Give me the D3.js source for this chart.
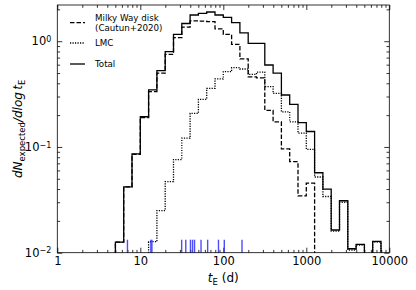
<!DOCTYPE html>
<html>
<head>
<meta charset="utf-8">
<script src="https://cdn.jsdelivr.net/npm/d3@7"></script>
<style>
  body { margin: 0; background: #fff; }
  svg { font-family: "DejaVu Sans", sans-serif; }
</style>
</head>
<body>
<div class="chart"></div>
<script>
// histogram bins: uniform in log10(tE), width 0.1 dex, from 10^0.7 to 10^4.0
const logEdges = d3.range(0.7, 4.0001, 0.1);

// dN_expected / dlog tE per bin (33 bins)
const milkyWay = [0.0126, 0.042, 0.085, 0.19, 0.333, 0.50, 0.75, 1.08, 1.36, 1.56,
  1.55, 1.53, 1.31, 1.16, 0.935, 0.68, 0.46, 0.45, 0.222, 0.173,
  0.0957, 0.0726, 0.0344, 0.0454, 0, 0, 0, 0, 0, 0, 0, 0, 0];
const lmc = [0, 0, 0, 0, 0.0127, 0.025, 0.047, 0.076, 0.121, 0.208,
  0.282, 0.358, 0.44, 0.515, 0.562, 0.546, 0.486, 0.51, 0.372, 0.321,
  0.215, 0.173, 0.135, 0.095, 0.052, 0.034, 0.016, 0.030, 0.0106, 0.0118,
  0, 0.0126, 0];
const total = [0.0126, 0.042, 0.086, 0.193, 0.346, 0.526, 0.796, 1.16, 1.47, 1.77,
  1.83, 1.89, 1.77, 1.68, 1.50, 1.20, 0.955, 0.955, 0.596, 0.50,
  0.31, 0.253, 0.170, 0.140, 0.057, 0.040, 0.0164, 0.031, 0.0109, 0.0120,
  0, 0.0128, 0];

// observed events (blue rug marks), tE in days
const observed = [7.0, 13.4, 13.8, 31.5, 35.3, 40.2, 42.6, 45.0, 53.9, 64.8, 87.5, 102.8, 168];

const xTicks = [1, 10, 100, 1000, 10000];
const yTicks = [0.01, 0.1, 1];
const yExp = ['\u22122', '\u22121', '0'];

const series = [
  {name: 'mw', values: milkyWay, dash: '4.5,2'},
  {name: 'lmc', values: lmc, dash: '1.2,1.3'},
  {name: 'total', values: total, dash: null}
];

const W = 416, H = 290;
const margin = {top: 5, right: 26.7, bottom: 37.3, left: 57.3};
const width = W - margin.left - margin.right;
const height = H - margin.top - margin.bottom;

const xScale = d3.scaleLog().domain([1, 10000]).range([0, width]);
const yScale = d3.scaleLog().domain([0.01, 2.2]).range([height, 0]);

const svg = d3.select('.chart').append('svg')
    .attr('width', W)
    .attr('height', H);

svg.append('defs').append('clipPath').attr('id', 'clip')
  .append('rect').attr('width', width).attr('height', height);

const g = svg.append('g')
    .attr('transform', `translate(${margin.left},${margin.top})`);

// minor tick values
const minorX = [];
xTicks.slice(0, -1).forEach(d => { for (let k = 2; k < 10; k++) minorX.push(d * k); });
const minorY = [];
[0.01, 0.1].forEach(d => { for (let k = 2; k < 10; k++) minorY.push(d * k); });
minorY.push(2);

const styleAxis = function (sel) {
  sel.select('.domain').remove();
  sel.selectAll('line').attr('stroke', '#000').attr('stroke-width', 0.8);
  sel.selectAll('text').attr('fill', '#000').style('font-size', '11.5px')
    .attr('font-family', '"DejaVu Sans", sans-serif');
};

// bottom / top
g.append('g').attr('transform', `translate(0,${height})`)
  .call(d3.axisBottom(xScale).tickValues(xTicks).tickSize(-5).tickPadding(4.5)
    .tickFormat(d3.format('d')))
  .call(styleAxis);
g.append('g').attr('transform', `translate(0,${height})`)
  .call(d3.axisBottom(xScale).tickValues(minorX).tickSize(-2.8).tickFormat(''))
  .call(styleAxis);
g.append('g')
  .call(d3.axisTop(xScale).tickValues(xTicks).tickSize(-5).tickFormat(''))
  .call(styleAxis);
g.append('g')
  .call(d3.axisTop(xScale).tickValues(minorX).tickSize(-2.8).tickFormat(''))
  .call(styleAxis);

// left / right
const yAxis = g.append('g')
  .call(d3.axisLeft(yScale).tickValues(yTicks).tickSize(-5).tickPadding(6).tickFormat(''))
  .call(styleAxis);
yAxis.selectAll('.tick text').each(function (d, i) {
  const t = d3.select(this).text(null).attr('dx', '-0.45em');
  t.append('tspan').text('10');
  t.append('tspan').attr('dy', '-0.45em').style('font-size', '8px').text(yExp[i]);
});
g.append('g')
  .call(d3.axisLeft(yScale).tickValues(minorY).tickSize(-2.8).tickFormat(''))
  .call(styleAxis);
g.append('g').attr('transform', `translate(${width},0)`)
  .call(d3.axisRight(yScale).tickValues(yTicks).tickSize(-5).tickFormat(''))
  .call(styleAxis);
g.append('g').attr('transform', `translate(${width},0)`)
  .call(d3.axisRight(yScale).tickValues(minorY).tickSize(-2.8).tickFormat(''))
  .call(styleAxis);

// fix superscript positions (text-anchor end: superscript is last)
yAxis.selectAll('.tick text').attr('dx', null);

// step histograms
const yPos = v => (v > 0 ? yScale(v) : height + 2);
const stepPoints = function (values) {
  const pts = [[xScale(Math.pow(10, logEdges[0])), height + 2]];
  values.forEach((v, i) => {
    pts.push([xScale(Math.pow(10, logEdges[i])), yPos(v)]);
    pts.push([xScale(Math.pow(10, logEdges[i + 1])), yPos(v)]);
  });
  pts.push([xScale(Math.pow(10, logEdges[values.length])), height + 2]);
  return pts;
};

const lines = g.append('g').attr('clip-path', 'url(#clip)');
lines.selectAll('.hist')
  .data(series)
  .enter().append('path')
    .attr('class', 'hist')
    .attr('d', d => d3.line()(stepPoints(d.values)))
    .attr('fill', 'none')
    .attr('stroke', '#000')
    .attr('stroke-width', 1.3)
    .attr('stroke-dasharray', d => d.dash);

// rug of observed events
g.append('g').selectAll('line')
  .data(observed)
  .enter().append('line')
    .attr('x1', d => xScale(d)).attr('x2', d => xScale(d))
    .attr('y1', height).attr('y2', height - 13)
    .attr('stroke', '#2f2ff5')
    .attr('stroke-width', 1.4)
    .attr('stroke-opacity', 0.85);

// frame
g.append('rect')
  .attr('width', width).attr('height', height)
  .attr('fill', 'none').attr('stroke', '#000').attr('stroke-width', 0.8);

// legend
const legend = [
  {dash: '4.5,2', y: 22.7, text: ['Milky Way disk', '(Cautun+2020)']},
  {dash: '1.2,1.3', y: 43, text: ['LMC']},
  {dash: null, y: 64, text: ['Total']}
];
const lg = svg.append('g');
legend.forEach(d => {
  lg.append('line')
    .attr('x1', 70).attr('x2', 85).attr('y1', d.y).attr('y2', d.y)
    .attr('stroke', '#000').attr('stroke-width', 1.3)
    .attr('stroke-dasharray', d.dash);
  d.text.forEach((s, i) => {
    lg.append('text')
      .attr('x', 95)
      .attr('y', d.y + (i - (d.text.length - 1) / 2) * 9.6)
      .attr('dy', '0.35em')
      .style('font-size', '8.7px')
      .text(s);
  });
});

// axis labels
const xl = svg.append('text')
  .attr('x', margin.left + width / 2).attr('y', 282)
  .attr('text-anchor', 'middle')
  .style('font-size', '12px');
xl.append('tspan').style('font-style', 'italic').text('t');
xl.append('tspan').attr('dy', 2.5).style('font-size', '8.5px').text('E');
xl.append('tspan').attr('dy', -2.5).text(' (d)');

const yl = svg.append('text')
  .attr('transform', `translate(22,${margin.top + height / 2}) rotate(-90)`)
  .attr('text-anchor', 'middle')
  .style('font-size', '12px');
yl.append('tspan').style('font-style', 'italic').text('dN');
yl.append('tspan').attr('dy', 2.5).style('font-size', '8.5px').text('expected');
yl.append('tspan').attr('dy', -2.5).style('font-style', 'italic').text('/dlog\u2009t');
yl.append('tspan').attr('dy', 2.5).style('font-size', '8.5px').text('E');
</script>
</body>
</html>
